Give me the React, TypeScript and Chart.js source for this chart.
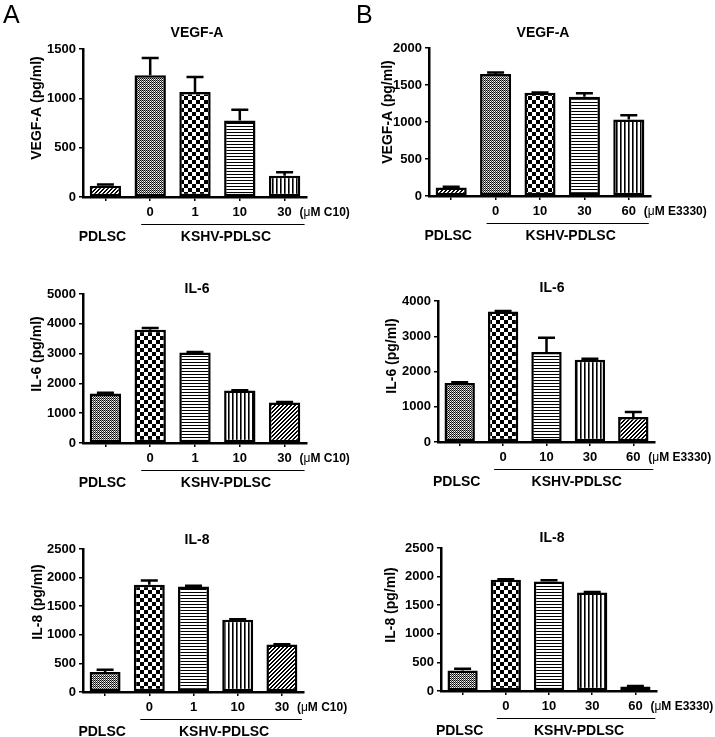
import React, { useEffect, useRef } from "react";
import { Chart, registerables } from "chart.js";

Chart.register(...registerables);

const FONT = '"Liberation Sans", Arial, Helvetica, sans-serif';

// ---------- data ----------
const categoriesC10 = ["", "0", "1", "10", "30"];
const categoriesE3330 = ["", "0", "10", "30", "60"];

const vegfC10 = [115, 1235, 1065, 775, 215];
const vegfC10Err = [12, 175, 150, 110, 35];
const il6C10 = [1665, 3800, 3035, 1765, 1360];
const il6C10Err = [20, 55, 15, 5, 20];
const il8C10 = [350, 1875, 1845, 1265, 830];
const il8C10Err = [40, 75, 12, 5, 5];

const vegfE3330 = [115, 1650, 1395, 1340, 1035];
const vegfE3330Err = [10, 20, 5, 50, 55];
const il6E3330 = [1675, 3705, 2555, 2335, 710];
const il6E3330Err = [20, 10, 405, 30, 140];
const il8E3330 = [360, 1945, 1915, 1720, 80];
const il8E3330Err = [30, 10, 20, 10, 8];

const groupLabels = ["PDLSC", "KSHV-PDLSC"];

type PatternName = "diag" | "fine" | "coarse" | "hlines" | "vlines";
const vegfPatterns: PatternName[] = ["diag", "fine", "coarse", "hlines", "vlines"];
const ilPatterns: PatternName[] = ["fine", "coarse", "hlines", "vlines", "diag"];

function makePattern(name: PatternName): CanvasPattern | string {
  const c = document.createElement("canvas");
  const ctx = c.getContext("2d");
  if (!ctx) return "#888";
  const setup = (w: number, h: number) => {
    c.width = w;
    c.height = h;
    ctx.fillStyle = "#fff";
    ctx.fillRect(0, 0, w, h);
    ctx.fillStyle = "#000";
  };
  switch (name) {
    case "diag":
      setup(4, 4);
      for (let i = 0; i < 4; i++) {
        ctx.fillRect(i, 3 - i, 1, 1);
        ctx.fillRect(i, (4 - i) % 4, 1, 1);
      }
      break;
    case "fine":
      setup(2, 2);
      ctx.fillRect(0, 0, 1, 1);
      ctx.fillStyle = "#333";
      ctx.fillRect(1, 1, 1, 1);
      ctx.fillStyle = "#aaa";
      ctx.fillRect(1, 0, 1, 1);
      break;
    case "coarse":
      setup(8, 8);
      ctx.fillRect(0, 0, 4, 4);
      ctx.fillRect(4, 4, 4, 4);
      break;
    case "hlines":
      setup(1, 3);
      ctx.fillRect(0, 0, 1, 1);
      break;
    case "vlines":
      setup(4, 1);
      ctx.fillRect(0, 0, 1, 1);
      ctx.fillStyle = "#666";
      ctx.fillRect(1, 0, 1, 1);
      break;
  }
  return ctx.createPattern(c, "repeat") || "#888";
}

type Panel = {
  key: string;
  L: number; T: number; W: number; H: number;
  axisLeft: number; axisTop: number; axisBottom: number; axisRight: number;
  labels: string[]; values: number[]; errors: number[];
  max: number; step: number;
  patterns: PatternName[];
  title: string; titleX: number; titleY: number;
  yTitle: string; yTitleX: number; yTitleY: number;
  unit: string;
  letter?: string; letterX?: number; letterY?: number;
};

const colA = { L: 0, W: 355 };
const colB = { L: 352, W: 363 };
const rows = [
  { T: 0, H: 248 },
  { T: 248, H: 242 },
  { T: 490, H: 247 },
];

const panels: Panel[] = [
  {
    key: "aVegf", ...colA, ...rows[0],
    axisLeft: 83, axisTop: 49, axisBottom: 197, axisRight: 307,
    labels: categoriesC10, values: vegfC10, errors: vegfC10Err, max: 1500, step: 500,
    patterns: vegfPatterns, title: "VEGF-A", titleX: 197, titleY: 33,
    yTitle: "VEGF-A (pg/ml)", yTitleX: 37, yTitleY: 108, unit: "C10",
    letter: "A", letterX: 3, letterY: 23,
  },
  {
    key: "aIl6", ...colA, ...rows[1],
    axisLeft: 83, axisTop: 294, axisBottom: 443, axisRight: 307,
    labels: categoriesC10, values: il6C10, errors: il6C10Err, max: 5000, step: 1000,
    patterns: ilPatterns, title: "IL-6", titleX: 197, titleY: 289,
    yTitle: "IL-6 (pg/ml)", yTitleX: 37, yTitleY: 354, unit: "C10",
  },
  {
    key: "aIl8", ...colA, ...rows[2],
    axisLeft: 83, axisTop: 549, axisBottom: 692, axisRight: 304,
    labels: categoriesC10, values: il8C10, errors: il8C10Err, max: 2500, step: 500,
    patterns: ilPatterns, title: "IL-8", titleX: 197, titleY: 540,
    yTitle: "IL-8 (pg/ml)", yTitleX: 38, yTitleY: 602, unit: "C10",
  },
  {
    key: "bVegf", ...colB, ...rows[0],
    axisLeft: 429, axisTop: 48, axisBottom: 196, axisRight: 651,
    labels: categoriesE3330, values: vegfE3330, errors: vegfE3330Err, max: 2000, step: 500,
    patterns: vegfPatterns, title: "VEGF-A", titleX: 543, titleY: 33,
    yTitle: "VEGF-A (pg/ml)", yTitleX: 388, yTitleY: 112, unit: "E3330",
    letter: "B", letterX: 356, letterY: 23,
  },
  {
    key: "bIl6", ...colB, ...rows[1],
    axisLeft: 438, axisTop: 301, axisBottom: 442, axisRight: 655,
    labels: categoriesE3330, values: il6E3330, errors: il6E3330Err, max: 4000, step: 1000,
    patterns: ilPatterns, title: "IL-6", titleX: 552, titleY: 288,
    yTitle: "IL-6 (pg/ml)", yTitleX: 392, yTitleY: 356, unit: "E3330",
  },
  {
    key: "bIl8", ...colB, ...rows[2],
    axisLeft: 441, axisTop: 548, axisBottom: 691, axisRight: 657,
    labels: categoriesE3330, values: il8E3330, errors: il8E3330Err, max: 2500, step: 500,
    patterns: ilPatterns, title: "IL-8", titleX: 552, titleY: 538,
    yTitle: "IL-8 (pg/ml)", yTitleX: 391, yTitleY: 605, unit: "E3330",
  },
];

function PanelChart({ p }: { p: Panel }) {
  const ref = useRef<HTMLCanvasElement>(null);
  useEffect(() => {
    const canvas = ref.current;
    if (!canvas) return;
    const yW = 45;
    const xH = p.T + p.H - p.axisBottom;

    const plugin = {
      id: "annot_" + p.key,
      afterDatasetsDraw(chart: any) {
        const ctx: CanvasRenderingContext2D = chart.ctx;
        const ys = chart.scales.y;
        const meta = chart.getDatasetMeta(0);
        ctx.save();
        ctx.strokeStyle = "#000";
        ctx.lineWidth = 2.5;
        meta.data.forEach((bar: any, i: number) => {
          const v = p.values[i];
          const e = p.errors[i];
          const yTop = ys.getPixelForValue(v);
          const yE = ys.getPixelForValue(v + e);
          ctx.beginPath();
          ctx.moveTo(bar.x, yTop);
          ctx.lineTo(bar.x, yE);
          ctx.moveTo(bar.x - 8.5, yE);
          ctx.lineTo(bar.x + 8.5, yE);
          ctx.stroke();
        });
        ctx.restore();
      },
      afterDraw(chart: any) {
        const ctx: CanvasRenderingContext2D = chart.ctx;
        const xs = chart.scales.x;
        const area = chart.chartArea;
        ctx.save();
        ctx.fillStyle = "#000";
        ctx.strokeStyle = "#000";

        // title
        ctx.font = `bold 14px ${FONT}`;
        ctx.textAlign = "center";
        ctx.textBaseline = "middle";
        ctx.fillText(p.title, p.titleX - p.L, p.titleY - p.T);

        // y title
        ctx.save();
        ctx.translate(p.yTitleX - p.L, p.yTitleY - p.T);
        ctx.rotate(-Math.PI / 2);
        ctx.fillText(p.yTitle, 0, 0);
        ctx.restore();

        // unit text
        const lastX = xs.getPixelForValue(p.labels.length - 1);
        let ux = lastX + 15;
        const uy = area.bottom + 16;
        ctx.textAlign = "left";
        const segs: [string, string][] = [["(", "bold"], ["\u03bc", "normal"], ["M " + p.unit + ")", "bold"]];
        for (const [txt, w] of segs) {
          ctx.font = `${w} 12px ${FONT}`;
          ctx.fillText(txt, ux, uy);
          ux += ctx.measureText(txt).width;
        }

        // group line
        const x1 = xs.getPixelForValue(1) - 9;
        const x2 = lastX + 20;
        const ly = area.bottom + 27.5;
        ctx.lineWidth = 1;
        ctx.beginPath();
        ctx.moveTo(x1, ly);
        ctx.lineTo(x2, ly);
        ctx.stroke();

        // group labels
        ctx.font = `bold 14px ${FONT}`;
        ctx.textAlign = "center";
        ctx.fillText(groupLabels[0], xs.getPixelForValue(0) - 3, area.bottom + 40);
        ctx.fillText(groupLabels[1], (x1 + x2) / 2 + 3, area.bottom + 40);

        // panel letter
        if (p.letter) {
          ctx.font = `25px ${FONT}`;
          ctx.textAlign = "left";
          ctx.textBaseline = "alphabetic";
          ctx.fillText(p.letter, (p.letterX || 0) - p.L, (p.letterY || 0) - p.T);
        }
        ctx.restore();
      },
    };

    const chart = new Chart(canvas, {
      type: "bar",
      data: {
        labels: p.labels,
        datasets: [
          {
            data: p.values,
            backgroundColor: p.patterns.map(makePattern) as any,
            borderColor: "#000",
            borderWidth: 2.5,
            borderSkipped: false,
            barPercentage: 0.7,
            categoryPercentage: 1.0,
          },
        ],
      },
      options: {
        responsive: false,
        animation: false,
        devicePixelRatio: 1,
        layout: {
          padding: {
            left: p.axisLeft - p.L - yW,
            top: p.axisTop - p.T,
            right: p.L + p.W - p.axisRight,
            bottom: 0,
          },
        },
        plugins: {
          legend: { display: false },
          tooltip: { enabled: false },
          title: { display: false },
        },
        scales: {
          x: {
            type: "category",
            offset: true,
            afterFit: (s: any) => {
              s.height = xH;
            },
            border: { display: true, color: "#000", width: 2.5 },
            grid: {
              display: true,
              offset: false,
              drawOnChartArea: false,
              drawTicks: true,
              tickLength: 4,
              color: "#000",
              lineWidth: 1.5,
            },
            ticks: {
              autoSkip: false,
              maxRotation: 0,
              minRotation: 0,
              padding: 4,
              color: "#000",
              font: { family: FONT, size: 13, weight: "bold" },
            },
          },
          y: {
            type: "linear",
            min: 0,
            max: p.max,
            afterFit: (s: any) => {
              s.width = yW;
            },
            border: { display: true, color: "#000", width: 2.5 },
            grid: {
              display: true,
              drawOnChartArea: false,
              drawTicks: true,
              tickLength: 4,
              color: "#000",
              lineWidth: 1.5,
            },
            ticks: {
              stepSize: p.step,
              padding: 3,
              color: "#000",
              font: { family: FONT, size: 13, weight: "bold" },
              callback: (v: any) => String(v),
            },
          },
        },
      } as any,
      plugins: [plugin],
    });
    return () => chart.destroy();
  }, [p]);

  return (
    <canvas
      ref={ref}
      width={p.W}
      height={p.H}
      style={{ position: "absolute", left: p.L, top: p.T, width: p.W, height: p.H }}
    />
  );
}

export default function App() {
  return (
    <div
      style={{
        position: "absolute",
        left: 0,
        top: 0,
        width: 715,
        height: 737,
        background: "#fff",
        overflow: "hidden",
      }}
    >
      {panels.map((p) => (
        <PanelChart key={p.key} p={p} />
      ))}
    </div>
  );
}
